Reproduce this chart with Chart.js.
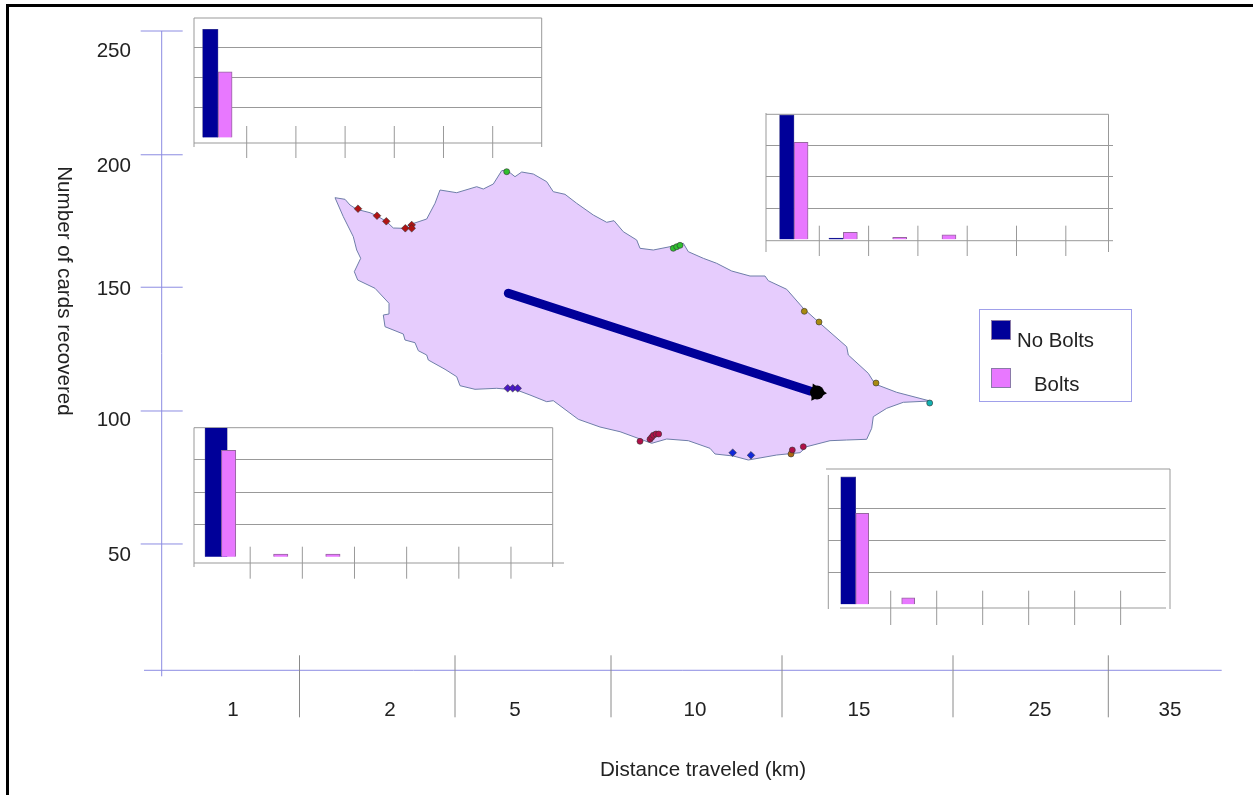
<!DOCTYPE html>
<html>
<head>
<meta charset="utf-8">
<title>Cards recovered by distance traveled</title>
<script src="https://cdn.jsdelivr.net/npm/chart.js@4"></script>
<style>
  html, body { margin: 0; padding: 0; background: #fff; width: 1253px; height: 795px; overflow: hidden; }
  canvas { position: absolute; }
  #frame { position: absolute; left: 6px; top: 4px; right: 0; bottom: 0; border-left: 3px solid #000; border-top: 3px solid #000; }
  #legend { position: absolute; left: 979px; top: 309px; width: 151px; height: 91px; border: 1px solid #a0a0ea; font: 20.4px "Liberation Sans", sans-serif; color: #222; }
  #legend i { position: absolute; left: 11px; width: 20px; height: 20px; outline: 1px solid #8a7aa8; outline-offset: -1px; }
  #legend span { position: absolute; white-space: nowrap; line-height: 24px; }
</style>
</head>
<body>
<div id="frame"></div>
<canvas id="mainChart" width="1253" height="795"></canvas>
<canvas id="insetA"></canvas>
<canvas id="insetB"></canvas>
<canvas id="insetC"></canvas>
<canvas id="insetD"></canvas>
<div id="legend">
  <i style="top:10px;background:#000099"></i><span style="left:37px;top:18px">No Bolts</span>
  <i style="top:58px;background:#e878ff"></i><span style="left:54px;top:62px">Bolts</span>
</div>

<script>
// ================= DATA =================
const distanceLabels = ["1", "2", "5", "10", "15", "25", "35"];
const cardLabels = ["50", "100", "150", "200", "250"];

// inset bars, one value per distance class
const insetANoBolts = [181, 0, 0, 0, 0, 0, 0];
const insetABolts = [110, 0, 0, 0, 0, 0, 0];
const insetBNoBolts = [199, 2, 0, 0, 0, 0, 0];
const insetBBolts = [155, 11, 3, 7, 0, 0, 0];
const insetCNoBolts = [200, 0, 0, 0, 0, 0, 0];
const insetCBolts = [165, 4, 4, 0, 0, 0, 0];
const insetDNoBolts = [199, 0, 0, 0, 0, 0, 0];
const insetDBolts = [142, 10, 0, 0, 0, 0, 0];

// island outline and release sites, in map units
const islandX = [335, 345, 350, 356.7, 370, 377.3, 386.7, 393.3, 403.3, 411.7, 426.7, 435, 440, 456.7, 476.7, 483.3, 493.3, 501.7, 506.7, 515, 521.7, 533.3, 546.7, 553.3, 565, 576.7, 593.3, 606.7, 614, 623.3, 636.7, 640, 653.3, 670, 683.3, 688.3, 703.3, 716.7, 731.7, 750, 765, 768.3, 786.7, 803.3, 820, 846.7, 848.3, 868.3, 875, 896.7, 930, 903.3, 886.7, 873.3, 871.7, 866.7, 846.7, 830, 806.7, 800, 776.7, 748.3, 733.3, 715, 710, 688.3, 666.7, 651.7, 640, 620, 600, 578.3, 553.3, 546.7, 530, 516.7, 496.7, 475, 460, 456.7, 445, 428.3, 426.7, 418.3, 415, 405, 403.3, 385, 383.3, 389, 389, 375, 357.7, 354.3, 360.7, 356.7, 353.3, 343.3, 335];
const islandY = [197.7, 199.3, 205, 209.3, 212.7, 216, 221.7, 228, 228.3, 224, 219, 203.3, 190, 192.7, 186.7, 189, 184, 170.7, 170, 176.7, 172, 174, 181.7, 191.7, 194.3, 203.3, 215, 222.3, 220.7, 231.7, 240, 248.3, 250, 246.7, 243.3, 251.7, 258.3, 263.3, 271, 276, 276, 280.7, 289.3, 308.3, 323.3, 346.7, 355, 373.3, 384, 392.3, 401, 402.3, 408.3, 416.7, 428.3, 439.3, 440, 440.7, 446.7, 452.7, 455, 460, 456, 454, 448.3, 440.7, 439, 443.3, 439, 431.7, 427, 419.3, 400.7, 401.7, 395, 390, 388.3, 389.3, 385.7, 376.7, 369.3, 360, 355, 350.7, 342.7, 340, 334, 326.7, 315, 314, 303.3, 288.3, 280, 271.7, 258.3, 250, 236.7, 216.7, 197.7];
const arrowX = [508.3, 810];
const arrowY = [293.3, 391];
const arrowHeadX = [817];
const arrowHeadY = [392.5];

const sitesRedX = [358, 377, 386.3, 405.3, 411.7, 411.7];
const sitesRedY = [208.7, 215.7, 221.3, 228.3, 225, 228.3];
const sitesGreenX = [506.7, 673.3, 676.7, 680];
const sitesGreenY = [171.7, 248.3, 246.7, 245.3];
const sitesOliveX = [804.3, 819, 876];
const sitesOliveY = [311.3, 322, 383];
const sitesTealX = [929.7];
const sitesTealY = [403];
const sitesPurpleX = [507.7, 512.7, 517.7];
const sitesPurpleY = [388.3, 388.3, 388.3];
const sitesCrimsonX = [640, 650, 651.7, 653.3, 656, 658.7, 792.3, 803.3];
const sitesCrimsonY = [441.3, 439.3, 437.3, 435.3, 434, 434, 450, 446.7];
const sitesBlueX = [732.7, 751];
const sitesBlueY = [452.7, 455.3];
const sitesBrownX = [791];
const sitesBrownY = [454];

// ================= LAYOUT =================
const FONT = { family: '"Liberation Sans", sans-serif', size: 20.6 };
const TEXT = "#222";
const BLUE = "#000099";
const PINK = "#e878ff";
const AXIS_BLUE = "#8c8ce2";
const GREY = "#999";

// the hand drawn axis is not quite even, so its marks sit where the picture has them
const yMarkAt = [49.4, 101.4, 149.8, 201.6, 250];
const yLabelAt = [45, 97.7, 149.1, 197.2, 242.2];
const xDividerAt = [299.5, 455, 611, 782, 953, 1108.3];
const xLabelAt = [233, 390, 515, 695, 859, 1040, 1170];

// ================= MAIN CHART PLUGIN =================
function drawTitle(ctx, text, x, y, angle) {
  ctx.save();
  ctx.translate(x, y);
  ctx.rotate(angle);
  ctx.font = `${FONT.size}px ${FONT.family}`;
  ctx.fillStyle = TEXT;
  ctx.textAlign = "center";
  ctx.textBaseline = "middle";
  ctx.fillText(text, 0, 0);
  ctx.restore();
}

const axisLines = {
  id: "axisLines",
  beforeDatasetsDraw(chart) {
    const { ctx, chartArea, scales } = chart;
    const axisX = scales.x.getPixelForValue(161.7);
    const axisY = chartArea.bottom;

    ctx.save();
    ctx.lineWidth = 1;
    ctx.strokeStyle = AXIS_BLUE;
    ctx.beginPath();
    ctx.moveTo(chartArea.left, axisY);
    ctx.lineTo(chartArea.right, axisY);
    ctx.moveTo(axisX, chartArea.top);
    ctx.lineTo(axisX, axisY + 6);
    scales.yMarks.ticks.forEach(t => {
      const y = scales.yMarks.getPixelForValue(t.value);
      ctx.moveTo(axisX - 21, y);
      ctx.lineTo(axisX + 21, y);
    });
    ctx.stroke();

    ctx.strokeStyle = "#8a8a8a";
    ctx.beginPath();
    scales.x.ticks.forEach(t => {
      const x = scales.x.getPixelForValue(t.value);
      ctx.moveTo(x, axisY - 15);
      ctx.lineTo(x, axisY + 47);
    });
    ctx.stroke();
    ctx.restore();
  },
  afterDraw(chart) {
    // neither title sits centred on its axis in the picture
    drawTitle(chart.ctx, "Number of cards recovered", 64, 291, Math.PI / 2);
    drawTitle(chart.ctx, "Distance traveled (km)", 703, 770, 0);
  },
};

function points(xs, ys) {
  return xs.map((x, i) => ({ x, y: ys[i] }));
}

function sites(xs, ys, color, style) {
  return {
    data: points(xs, ys),
    showLine: false,
    pointStyle: style,
    pointRadius: style === "circle" ? 3 : 3.8,
    pointBackgroundColor: color,
    pointBorderColor: "#333",
    pointBorderWidth: 0.6,
    yAxisID: "map",
    order: 1,
  };
}

// ================= MAIN CHART =================
new Chart(document.getElementById("mainChart"), {
  type: "scatter",
  data: {
    datasets: [
      {
        data: points(islandX, islandY),
        showLine: true,
        fill: "shape",
        tension: 0,
        backgroundColor: "#e6ccfd",
        borderColor: "#6e7ea8",
        borderWidth: 1,
        pointRadius: 0,
        yAxisID: "map",
        order: 4,
      },
      {
        data: points(arrowX, arrowY),
        showLine: true,
        borderColor: BLUE,
        borderWidth: 9,
        borderCapStyle: "round",
        pointRadius: 0,
        yAxisID: "map",
        order: 3,
      },
      {
        data: points(arrowHeadX, arrowHeadY),
        showLine: false,
        pointStyle: "triangle",
        rotation: 95,
        pointRadius: 7,
        pointBackgroundColor: "#000",
        pointBorderColor: "#000",
        pointBorderWidth: 3,
        yAxisID: "map",
        order: 2,
      },
      {
        data: points(arrowHeadX, arrowHeadY),
        showLine: false,
        pointStyle: "circle",
        pointRadius: 7,
        pointBackgroundColor: "#000",
        pointBorderWidth: 0,
        yAxisID: "map",
        order: 2,
      },
      sites(sitesRedX, sitesRedY, "#b01414", "rectRot"),
      sites(sitesGreenX, sitesGreenY, "#2fc02f", "circle"),
      sites(sitesOliveX, sitesOliveY, "#a88a10", "circle"),
      sites(sitesTealX, sitesTealY, "#12b0b0", "circle"),
      sites(sitesPurpleX, sitesPurpleY, "#4a18c8", "rectRot"),
      sites(sitesCrimsonX, sitesCrimsonY, "#b01048", "circle"),
      sites(sitesBlueX, sitesBlueY, "#1028d8", "rectRot"),
      sites(sitesBrownX, sitesBrownY, "#b06a14", "circle"),
    ],
  },
  options: {
    responsive: false,
    animation: false,
    events: [],
    layout: { padding: { left: 0, top: 31, right: 31.3, bottom: 0 } },
    plugins: { legend: { display: false }, tooltip: { enabled: false } },
    scales: {
      x: {
        type: "linear",
        display: false,
        min: 144,
        max: 1221.7,
        afterBuildTicks: s => { s.ticks = xDividerAt.map(value => ({ value })); },
      },
      xLabels: {
        type: "linear",
        position: "bottom",
        min: 144,
        max: 1221.7,
        border: { display: false },
        grid: { display: false, drawTicks: false },
        ticks: {
          font: FONT,
          color: TEXT,
          padding: 28,
          autoSkip: false,
          maxRotation: 0,
          callback: (v, i) => distanceLabels[i],
        },
        afterBuildTicks: s => { s.ticks = xLabelAt.map(value => ({ value })); },
        afterFit: s => { s.height = 124.7; },
      },
      map: { type: "linear", display: false, reverse: true, min: 31, max: 670.3 },
      yMarks: {
        type: "linear",
        display: false,
        min: 0,
        max: 250,
        afterBuildTicks: s => { s.ticks = yMarkAt.map(value => ({ value })); },
      },
      y: {
        type: "linear",
        position: "left",
        min: 0,
        max: 250,
        border: { display: false },
        grid: { display: false, drawTicks: false },
        ticks: {
          font: FONT,
          color: TEXT,
          padding: 13,
          autoSkip: false,
          callback: (v, i) => cardLabels[i],
        },
        afterBuildTicks: s => { s.ticks = yLabelAt.map(value => ({ value })); },
        afterFit: s => { s.width = 144; },
      },
    },
  },
  plugins: [axisLines],
});

// ================= INSET CHARTS =================
const insetFrame = {
  id: "insetFrame",
  beforeDatasetsDraw(chart, args, o) {
    const { ctx, chartArea, scales } = chart;
    const ox = o.box.x;
    const oy = o.box.y;

    ctx.save();
    ctx.lineWidth = 1;
    ctx.strokeStyle = GREY;
    ctx.beginPath();
    ctx.moveTo(o.topFrom - ox, chartArea.top);
    ctx.lineTo(o.sideX - ox, chartArea.top);
    ctx.moveTo(chartArea.left, o.leftTop - oy);
    ctx.lineTo(chartArea.left, o.sideBottom - oy);
    ctx.moveTo(o.sideX - ox, chartArea.top);
    ctx.lineTo(o.sideX - ox, o.sideBottom - oy);
    ctx.moveTo(o.axisFrom - ox, chartArea.bottom);
    ctx.lineTo(o.axisTo - ox, chartArea.bottom);
    scales.x.ticks.forEach(t => {
      const x = scales.x.getPixelForValue(t.value);
      ctx.moveTo(x, o.dividerTop - oy);
      ctx.lineTo(x, o.dividerBottom - oy);
    });
    ctx.stroke();
    ctx.restore();
  },
};

function barData(values, shift) {
  return distanceLabels
    .map((d, i) => ({ x: i + 0.5 + shift, y: values[i] }))
    .filter(p => p.y > 0);
}

function makeInset(id, noBolts, bolts, c) {
  const canvas = document.getElementById(id);
  canvas.width = c.box.w;
  canvas.height = c.box.h;
  canvas.style.left = c.box.x + "px";
  canvas.style.top = c.box.y + "px";

  new Chart(canvas, {
    type: "bar",
    data: {
      datasets: [
        {
          label: "No Bolts",
          data: barData(noBolts, c.blueShift),
          backgroundColor: BLUE,
          borderColor: "#55558f",
          borderWidth: 0.6,
          barThickness: c.blueWidth,
          grouped: false,
          order: 2,
        },
        {
          label: "Bolts",
          data: barData(bolts, c.pinkShift),
          backgroundColor: PINK,
          borderColor: "#96689f",
          borderWidth: 1,
          barThickness: c.pinkWidth,
          grouped: false,
          order: 1,
        },
      ],
    },
    options: {
      responsive: false,
      animation: false,
      events: [],
      layout: {
        padding: {
          left: c.left - c.box.x,
          right: c.box.x + c.box.w - c.right,
          top: c.top - c.box.y,
          bottom: c.box.y + c.box.h - c.bottom,
        },
      },
      plugins: {
        legend: { display: false },
        tooltip: { enabled: false },
        insetFrame: c,
      },
      scales: {
        x: {
          type: "linear",
          display: false,
          offset: false,
          min: c.xMin,
          max: c.xMax,
          afterBuildTicks: s => { s.ticks = [1, 2, 3, 4, 5, 6].map(value => ({ value })); },
        },
        y: {
          type: "linear",
          min: c.yMin,
          max: c.yMax,
          border: { display: false },
          grid: { color: GREY, drawTicks: false, lineWidth: 1 },
          ticks: { display: false },
          afterBuildTicks: s => { s.ticks = [50, 100, 150].map(value => ({ value })); },
          afterFit: s => { s.width = 0; },
        },
      },
    },
    plugins: [insetFrame],
  });
}

makeInset("insetA", insetANoBolts, insetABolts, {
  box: { x: 184, y: 8, w: 370, h: 160 },
  left: 194, right: 541.7, top: 18, bottom: 143,
  xMin: -0.071, xMax: 6.996, yMin: -9.2, yMax: 200,
  blueShift: -0.239, pinkShift: 0.061, blueWidth: 15.5, pinkWidth: 14,
  topFrom: 194, sideX: 541.7, leftTop: 18, sideBottom: 147, axisFrom: 194, axisTo: 541.7,
  dividerTop: 126, dividerBottom: 158,
});

makeInset("insetB", insetBNoBolts, insetBBolts, {
  box: { x: 756, y: 104, w: 370, h: 160 },
  left: 766, right: 1113, top: 114.3, bottom: 240.7,
  xMin: -0.081, xMax: 6.957, yMin: -2.2, yMax: 200,
  blueShift: -0.159, pinkShift: 0.13, blueWidth: 14.5, pinkWidth: 14,
  topFrom: 766, sideX: 1108.5, leftTop: 113, sideBottom: 252, axisFrom: 766, axisTo: 1113,
  dividerTop: 225.7, dividerBottom: 256,
});

makeInset("insetC", insetCNoBolts, insetCBolts, {
  box: { x: 184, y: 418, w: 390, h: 170 },
  left: 194, right: 552.7, top: 427.7, bottom: 563,
  xMin: -0.077, xMax: 6.8, yMin: -9.8, yMax: 200,
  blueShift: -0.153, pinkShift: 0.086, blueWidth: 22.4, pinkWidth: 14.4,
  topFrom: 194, sideX: 552.7, leftTop: 427.7, sideBottom: 567, axisFrom: 194, axisTo: 564,
  dividerTop: 546.7, dividerBottom: 578.7,
});

makeInset("insetD", insetDNoBolts, insetDBolts, {
  box: { x: 818, y: 460, w: 362, h: 175 },
  left: 828.3, right: 1165.7, top: 469, bottom: 608,
  xMin: -0.357, xMax: 6.98, yMin: -5.8, yMax: 211.4,
  blueShift: -0.424, pinkShift: -0.12, blueWidth: 15, pinkWidth: 13,
  topFrom: 826, sideX: 1170, leftTop: 475, sideBottom: 609, axisFrom: 840, axisTo: 1166,
  dividerTop: 590.7, dividerBottom: 625,
});
</script>
</body>
</html>
